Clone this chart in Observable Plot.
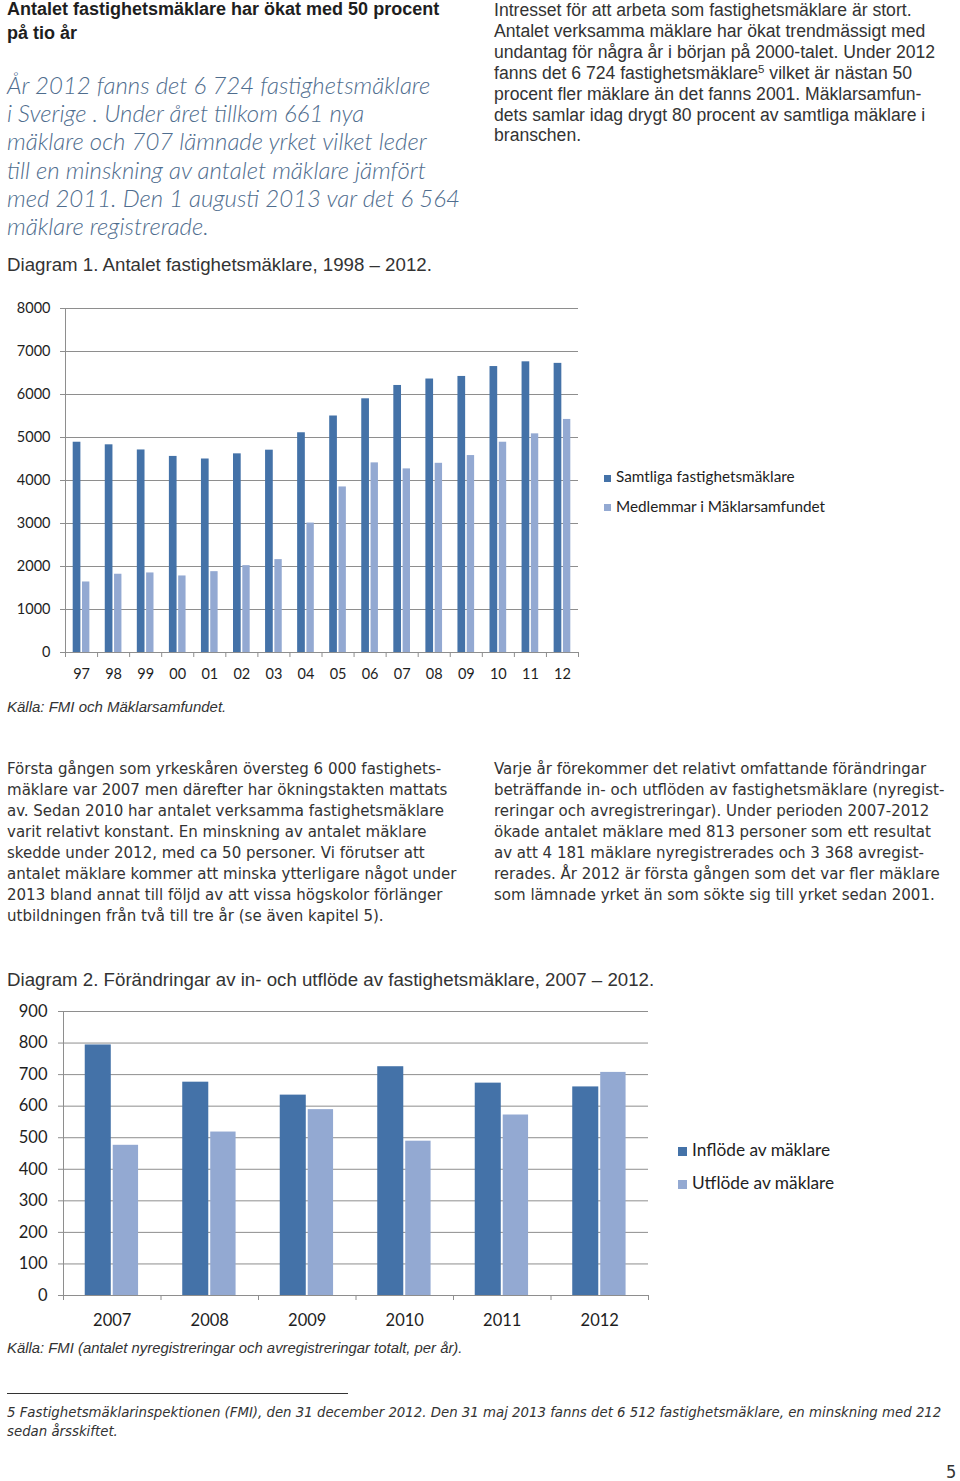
<!DOCTYPE html>
<html lang="sv">
<head>
<meta charset="utf-8">
<script src="https://cdn.jsdelivr.net/npm/d3@7"></script>
<script src="https://cdn.jsdelivr.net/npm/@observablehq/plot@0.6"></script>
<style>
  html, body { margin: 0; padding: 0; background: #fff; }
  #page { position: relative; width: 960px; height: 1481px; overflow: hidden; color: #2b2b2b; }
  .abs { position: absolute; white-space: nowrap; }
  .title { left: 7px; top: -3px; font-family: "Liberation Sans", sans-serif; font-weight: bold; font-size: 18px; line-height: 24px; color: #1e1e1e; }
  .lead { left: 7px; top: 71px; font-family: Lato, "Open Sans", sans-serif; font-weight: 300; font-style: italic; font-size: 24px; line-height: 28.2px; color: #4f6d8e; }
  .cap { left: 7px; font-family: "Liberation Sans", sans-serif; font-size: 18.7px; color: #333; }
  .rtext { left: 494px; top: 0px; font-family: "Liberation Sans", sans-serif; font-size: 17.6px; line-height: 20.9px; color: #333; }
  .body { font-family: "DejaVu Sans Condensed", "DejaVu Sans", sans-serif; font-stretch: condensed; font-size: 16.7px; line-height: 21px; color: #333; top: 758px; }
  .src { left: 7px; font-family: "Liberation Sans", sans-serif; font-style: italic; font-size: 15px; color: #333; }
  .src2 { font-size: 14.85px; }
  .foot { left: 7px; top: 1403px; font-family: "DejaVu Sans Condensed", "DejaVu Sans", sans-serif; font-stretch: condensed; font-style: italic; font-size: 14.8px; line-height: 18.5px; color: #333; }
  .legend { font-family: Lato, "Open Sans", sans-serif; color: #1e1e1e; }
  .legend .row { position: absolute; white-space: nowrap; }
  .legend .sw { display: inline-block; vertical-align: middle; margin-right: 5px; }
  sup { font-size: 0.65em; vertical-align: 0.55em; line-height: 0; }
</style>
</head>
<body>
<div id="page">
  <div class="abs title">Antalet fastighetsmäklare har ökat med 50 procent<br>på tio år</div>
  <div class="abs lead">År 2012 fanns det 6 724 fastighetsmäklare<br>i Sverige . Under året tillkom 661 nya<br>mäklare och 707 lämnade yrket vilket leder<br>till en minskning av antalet mäklare jämfört<br>med 2011. Den 1 augusti 2013 var det 6 564<br>mäklare registrerade.</div>
  <div class="abs cap" style="top:254px">Diagram 1. Antalet fastighetsmäklare, 1998 – 2012.</div>
  <div class="abs rtext">Intresset för att arbeta som fastighetsmäklare är stort.<br>Antalet verksamma mäklare har ökat trendmässigt med<br>undantag för några år i början på 2000-talet. Under 2012<br>fanns det 6 724 fastighetsmäklare<sup>5</sup> vilket är nästan 50<br>procent fler mäklare än det fanns 2001. Mäklarsamfun-<br>dets samlar idag drygt 80 procent av samtliga mäklare i<br>branschen.</div>

  <div id="chart1" class="abs" style="left:0;top:290px"></div>
  <div class="legend" id="legend1"></div>
  <div class="abs src" style="top:698px">Källa: FMI och Mäklarsamfundet.</div>

  <div class="abs body" style="left:7px">Första gången som yrkeskåren översteg 6 000 fastighets-<br>mäklare var 2007 men därefter har ökningstakten mattats<br>av. Sedan 2010 har antalet verksamma fastighetsmäklare<br>varit relativt konstant. En minskning av antalet mäklare<br>skedde under 2012, med ca 50 personer. Vi förutser att<br>antalet mäklare kommer att minska ytterligare något under<br>2013 bland annat till följd av att vissa högskolor förlänger<br>utbildningen från två till tre år (se även kapitel 5).</div>
  <div class="abs body" style="left:494px">Varje år förekommer det relativt omfattande förändringar<br>beträffande in- och utflöden av fastighetsmäklare (nyregist-<br>reringar och avregistreringar). Under perioden 2007-2012<br>ökade antalet mäklare med 813 personer som ett resultat<br>av att 4 181 mäklare nyregistrerades och 3 368 avregist-<br>rerades. År 2012 är första gången som det var fler mäklare<br>som lämnade yrket än som sökte sig till yrket sedan 2001.</div>

  <div class="abs cap" style="top:969px">Diagram 2. Förändringar av in- och utflöde av fastighetsmäklare, 2007 – 2012.</div>
  <div id="chart2" class="abs" style="left:0;top:995px"></div>
  <div class="legend" id="legend2"></div>
  <div class="abs src src2" style="top:1340px">Källa: FMI (antalet nyregistreringar och avregistreringar totalt, per år).</div>

  <div class="abs" style="left:7px;top:1393px;width:341px;height:0;border-top:1.3px solid #333"></div>
  <div class="abs foot">5 Fastighetsmäklarinspektionen (FMI), den 31 december 2012. Den 31 maj 2013 fanns det 6 512 fastighetsmäklare, en minskning med 212<br>sedan årsskiftet.</div>
  <div class="abs" style="left:946px;top:1461px;font-family:'DejaVu Sans Condensed',sans-serif;font-size:18px;color:#333">5</div>
</div>

<script>
// ---------- Diagram 1 data ----------
const years1 = ["97","98","99","00","01","02","03","04","05","06","07","08","09","10","11","12"];
const samtliga = [4890, 4830, 4710, 4560, 4500, 4620, 4705, 5110, 5500, 5900, 6210, 6360, 6420, 6650, 6760, 6724];
const medlemmar = [1640, 1820, 1850, 1780, 1880, 2020, 2160, 3010, 3850, 4410, 4270, 4400, 4580, 4890, 5085, 5420];
const yTicks1 = [0, 1000, 2000, 3000, 4000, 5000, 6000, 7000, 8000];
const seriesNames1 = ["Samtliga fastighetsmäklare", "Medlemmar i Mäklarsamfundet"];

// ---------- Diagram 2 data ----------
const years2 = ["2007","2008","2009","2010","2011","2012"];
const inflode = [794, 676, 635, 725, 673, 661];
const utflode = [476, 518, 589, 489, 572, 707];
const yTicks2 = [0, 100, 200, 300, 400, 500, 600, 700, 800, 900];
const seriesNames2 = ["Inflöde av mäklare", "Utflöde av mäklare"];

const DARK = "#4472a8";
const LIGHT = "#93a9d2";
const GRID = "#8e8e8e";

function groupedChart({labels, a, b, yTicks, yMax, width, height, margins, fontSize, slotA, slotB, tickPadX, tickPadY}) {
  const n = labels.length;
  const idx = d3.range(n);
  const rowsA = idx.map(i => ({x1: i + slotA[0], x2: i + slotA[1], v: a[i]}));
  const rowsB = idx.map(i => ({x1: i + slotB[0], x2: i + slotB[1], v: b[i]}));
  return Plot.plot({
    width, height,
    marginLeft: margins[0], marginRight: margins[1], marginTop: margins[2], marginBottom: margins[3],
    style: {fontFamily: "Lato, 'Open Sans', sans-serif", fontSize: fontSize + "px", color: "#1e1e1e", background: "transparent", overflow: "visible"},
    x: {type: "linear", domain: [0, n], axis: null},
    y: {domain: [0, yMax], axis: null},
    marks: [
      Plot.ruleY(yTicks, {stroke: GRID, strokeWidth: 1}),
      Plot.ruleX([0], {y1: 0, y2: yMax, stroke: GRID, strokeWidth: 1}),
      Plot.axisY({ticks: yTicks, tickSize: 5, tickPadding: tickPadY, stroke: GRID, fill: "#1e1e1e", label: null, tickFormat: d => String(d)}),
      Plot.axisX({ticks: d3.range(n + 1), tickSize: 5, stroke: GRID, label: null, tickFormat: () => ""}),
      Plot.axisX({ticks: idx.map(i => i + 0.5), tickSize: 0, tickPadding: tickPadX, fill: "#1e1e1e", label: null, tickFormat: t => labels[Math.floor(t)]}),
      Plot.rectY(rowsA, {x1: "x1", x2: "x2", y: "v", fill: DARK}),
      Plot.rectY(rowsB, {x1: "x1", x2: "x2", y: "v", fill: LIGHT})
    ]
  });
}

document.getElementById("chart1").append(groupedChart({
  labels: years1, a: samtliga, b: medlemmar, yTicks: yTicks1, yMax: 8000,
  width: 600, height: 400, margins: [65, 22, 18, 38], fontSize: 14.5,
  slotA: [0.24, 0.48], slotB: [0.53, 0.76], tickPadX: 16, tickPadY: 10
}));
document.getElementById("chart2").append(groupedChart({
  labels: years2, a: inflode, b: utflode, yTicks: yTicks2, yMax: 900,
  width: 660, height: 335, margins: [63, 12, 16, 35], fontSize: 16.5,
  slotA: [0.223, 0.49], slotB: [0.51, 0.77], tickPadX: 19, tickPadY: 11
}));

function legend(el, names, pos, sw, fs, gap) {
  const colors = [DARK, LIGHT];
  names.forEach((name, i) => {
    const row = document.createElement("div");
    row.className = "row";
    row.style.left = pos[0] + "px";
    row.style.top = (pos[1] + i * gap) + "px";
    row.style.fontSize = fs + "px";
    row.innerHTML = `<span class="sw" style="width:${sw}px;height:${sw}px;background:${colors[i]}"></span>${name}`;
    el.append(row);
  });
}
legend(document.getElementById("legend1"), seriesNames1, [604, 467], 7, 15.3, 29.5);
legend(document.getElementById("legend2"), seriesNames2, [678, 1139], 9, 17.3, 33);
</script>
</body>
</html>
